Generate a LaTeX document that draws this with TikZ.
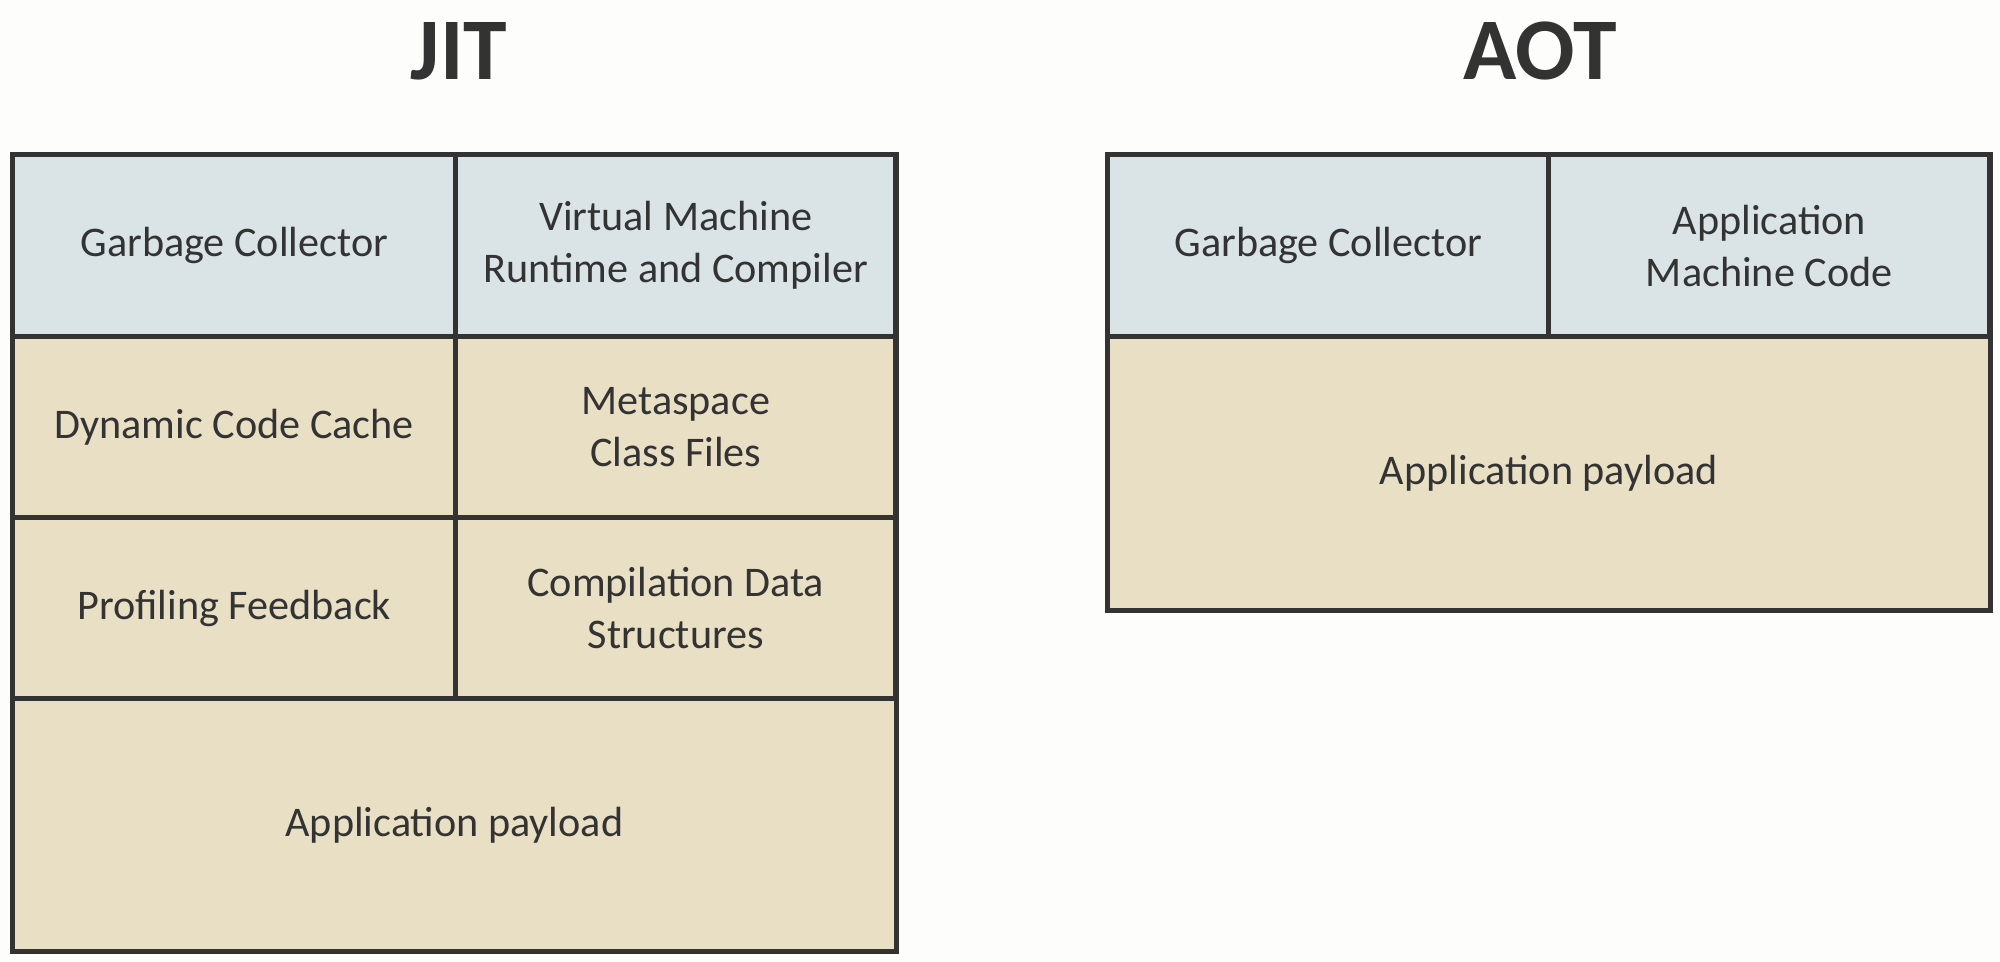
\documentclass[tikz,border=0pt]{standalone}
\usepackage{fontspec}
\setmainfont{Carlito}
\definecolor{edge}{HTML}{333333}
\definecolor{ink}{HTML}{333333}
\definecolor{topfill}{HTML}{DAE3E6}
\definecolor{memfill}{HTML}{E8DFC5}
\definecolor{paper}{HTML}{FDFDFB}

\begin{document}
\begin{tikzpicture}[x=0.01cm,y=-0.01cm,
    cell/.style={draw=edge,line width=1.5pt,anchor=north west,align=center,
      text=ink,font=\fontsize{12}{14.8}\selectfont,inner sep=0pt},
    topcell/.style={cell,fill=topfill},
    memcell/.style={cell,fill=memfill},
    heading/.style={text=ink,font=\fontsize{25}{30}\selectfont\bfseries}]
    % page
    \fill[paper] (0,0) rectangle (2000,962);
    % JIT column
    \node[heading] (jittitle) at (459,51) {JIT};
    \node[topcell,minimum width=4.43cm,minimum height=1.82cm] (jitgc) at (10,152) {Garbage Collector};
    \node[topcell,minimum width=4.40cm,minimum height=1.82cm] (jitvm) at (453,152) {Virtual Machine\\Runtime and Compiler};
    \node[memcell,minimum width=4.43cm,minimum height=1.81cm] (jitcache) at (10,334) {Dynamic Code Cache};
    \node[memcell,minimum width=4.40cm,minimum height=1.81cm] (jitmeta) at (453,334) {Metaspace\\Class Files};
    \node[memcell,minimum width=4.43cm,minimum height=1.81cm] (jitprof) at (10,515) {Profiling Feedback};
    \node[memcell,minimum width=4.40cm,minimum height=1.81cm] (jitcomp) at (453,515) {Compilation Data\\Structures};
    \node[memcell,minimum width=8.83cm,minimum height=2.53cm] (jitapp) at (10,696) {Application payload};
    % AOT column
    \node[heading] (aottitle) at (1540,51) {AOT};
    \node[topcell,minimum width=4.41cm,minimum height=1.82cm] (aotgc) at (1105,152) {Garbage Collector};
    \node[topcell,minimum width=4.41cm,minimum height=1.82cm] (aotcode) at (1546,152) {Application\\Machine Code};
    \node[memcell,minimum width=8.82cm,minimum height=2.74cm] (aotapp) at (1105,334) {Application payload};
\end{tikzpicture}
\end{document}
